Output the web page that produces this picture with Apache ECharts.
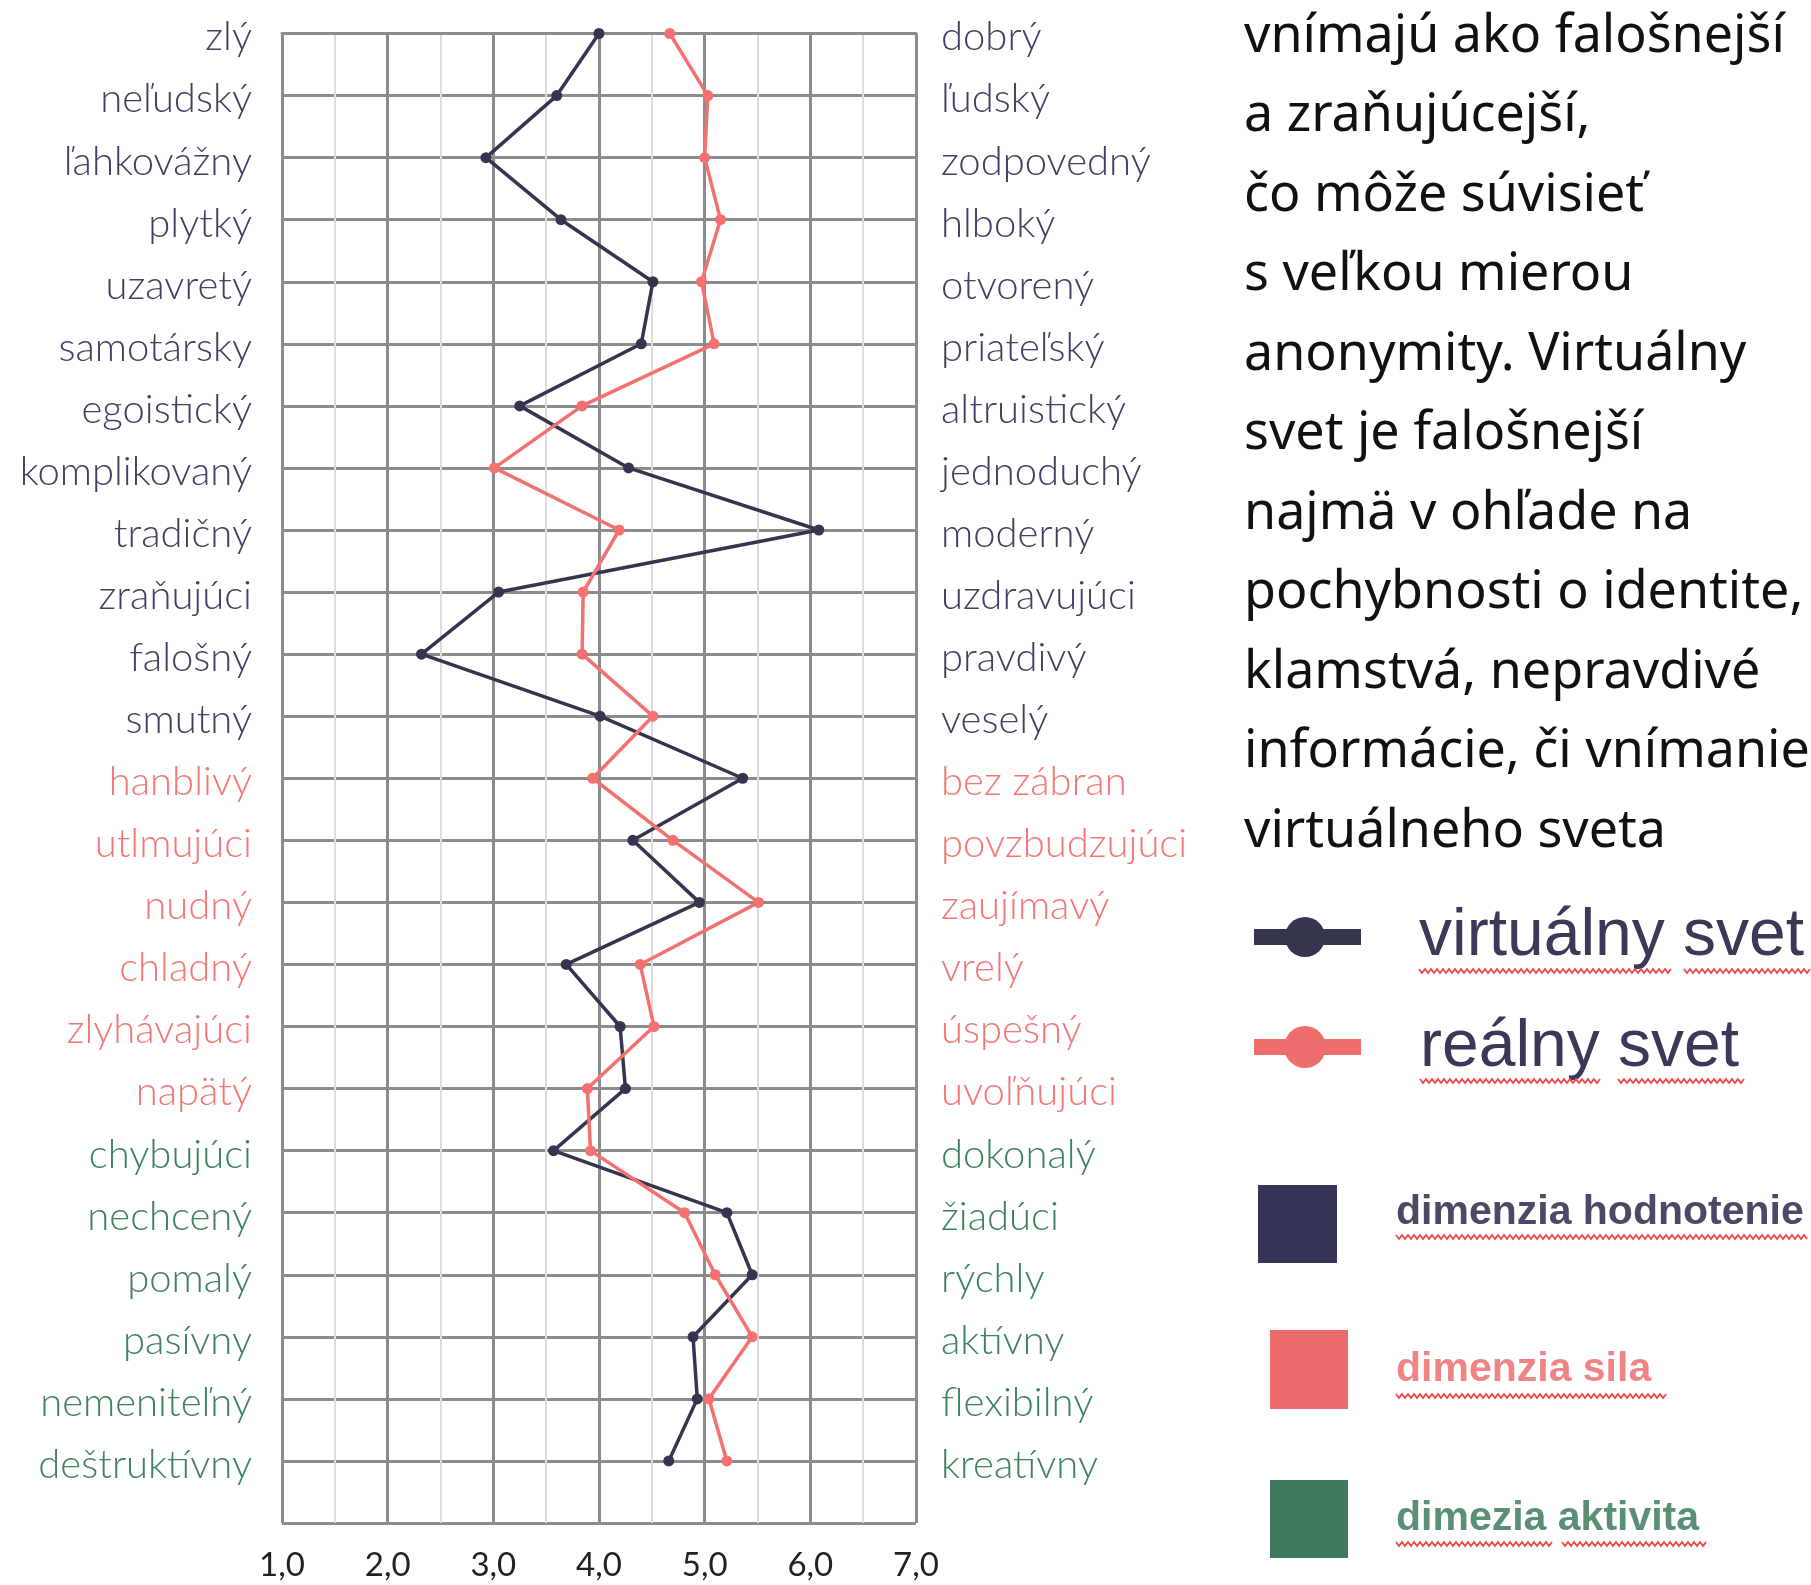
<!DOCTYPE html>
<html>
<head>
<meta charset="utf-8">
<script src="https://cdn.jsdelivr.net/npm/echarts@6/dist/echarts.min.js"></script>
<style>
html, body { margin: 0; padding: 0; background: #fff; }
#chart1 { width: 1811px; height: 1585px; }
</style>
</head>
<body>
<div id="chart1"></div>
<script>
// pary prídavných mien (ľavý / pravý pól)
var leftNames = ['zlý', 'neľudský', 'ľahkovážny', 'plytký', 'uzavretý', 'samotársky', 'egoistický',
	'komplikovaný', 'tradičný', 'zraňujúci', 'falošný', 'smutný', 'hanblivý', 'utlmujúci', 'nudný',
	'chladný', 'zlyhávajúci', 'napätý', 'chybujúci', 'nechcený', 'pomalý', 'pasívny', 'nemeniteľný', 'deštruktívny'];
var rightNames = ['dobrý', 'ľudský', 'zodpovedný', 'hlboký', 'otvorený', 'priateľský', 'altruistický',
	'jednoduchý', 'moderný', 'uzdravujúci', 'pravdivý', 'veselý', 'bez zábran', 'povzbudzujúci', 'zaujímavý',
	'vrelý', 'úspešný', 'uvoľňujúci', 'dokonalý', 'žiadúci', 'rýchly', 'aktívny', 'flexibilný', 'kreatívny'];
// dimenzia: h = hodnotenie, s = sila, a = aktivita
var rowDim = ['h', 'h', 'h', 'h', 'h', 'h', 'h', 'h', 'h', 'h', 'h', 'h',
	's', 's', 's', 's', 's', 's', 'a', 'a', 'a', 'a', 'a', 'a'];

var virtualny = [4.00, 3.60, 2.93, 3.64, 4.51, 4.40, 3.25, 4.28, 6.08, 3.05, 2.32, 4.01,
	5.36, 4.32, 4.95, 3.69, 4.20, 4.25, 3.57, 5.21, 5.45, 4.89, 4.93, 4.66];
var realny = [4.67, 5.03, 5.00, 5.15, 4.97, 5.09, 3.84, 3.01, 4.19, 3.85, 3.84, 4.51,
	3.94, 4.70, 5.51, 4.39, 4.52, 3.89, 3.92, 4.81, 5.10, 5.45, 5.04, 5.21];

var textLines = ['vnímajú ako falošnejší', 'a zraňujúcejší,', 'čo môže súvisieť', 's veľkou mierou',
	'anonymity. Virtuálny', 'svet je falošnejší', 'najmä v ohľade na', 'pochybnosti o identite,',
	'klamstvá, nepravdivé', 'informácie, či vnímanie', 'virtuálneho sveta'];

var NAVY = '#36354f';
var PINK = '#f4716f';
var labelFont = 'Lato';

var rich = {
	h: { color: '#414062', fontSize: 40, fontWeight: 300, fontFamily: labelFont, padding: [8, 0, 0, 0] },
	s: { color: '#f37775', fontSize: 40, fontWeight: 300, fontFamily: labelFont, padding: [8, 0, 0, 0] },
	a: { color: '#3f8260', fontSize: 40, fontWeight: 300, fontFamily: labelFont, padding: [8, 0, 0, 0] }
};

function toPairs(arr) {
	var d = [];
	for (var i = 0; i < arr.length; i++) {
		d.push([arr[i], i]);
	}
	return d;
}

// vlnovka ako pri kontrole pravopisu
function squiggle(x0, x1, y) {
	var pts = [];
	var k = 0;
	for (var x = x0; x <= x1; x += 3) {
		pts.push([x, y + (k % 2 ? 2 : -2)]);
		k++;
	}
	return {
		type: 'polyline',
		shape: { points: pts },
		style: { stroke: '#f04a4a', lineWidth: 1.8, fill: null }
	};
}

var myChart = echarts.init(document.getElementById('chart1'));

var graphics = [
	{
		type: 'text', x: 1244, y: -3,
		style: {
			text: textLines.join('\n'), font: '52px "Noto Sans"', fill: '#111',
			lineHeight: 79.5, verticalAlign: 'top', align: 'left'
		}
	},
	// legenda - čiary
	{ type: 'rect', shape: { x: 1254, y: 929, width: 107, height: 16 }, style: { fill: NAVY } },
	{ type: 'circle', shape: { cx: 1305, cy: 937, r: 20 }, style: { fill: NAVY } },
	{ type: 'text', x: 1419, y: 937, style: { text: 'virtuálny svet', font: '66px "Liberation Sans"', fill: '#3a3958', verticalAlign: 'middle' } },
	{ type: 'rect', shape: { x: 1254, y: 1039, width: 107, height: 16 }, style: { fill: '#ef6d6d' } },
	{ type: 'circle', shape: { cx: 1305, cy: 1047, r: 21 }, style: { fill: '#ef6d6d' } },
	{ type: 'text', x: 1420, y: 1048, style: { text: 'reálny svet', font: '66px "Liberation Sans"', fill: '#3a3958', verticalAlign: 'middle' } },
	// legenda - dimenzie
	{ type: 'rect', shape: { x: 1258, y: 1185, width: 79, height: 78 }, style: { fill: '#363555' } },
	{ type: 'text', x: 1396, y: 1213, style: { text: 'dimenzia hodnotenie', font: 'bold 41px "Liberation Sans"', fill: '#4a4968', verticalAlign: 'middle' } },
	{ type: 'rect', shape: { x: 1270, y: 1330, width: 78, height: 79 }, style: { fill: '#ec6b6c' } },
	{ type: 'text', x: 1396, y: 1370, style: { text: 'dimenzia sila', font: 'bold 41px "Liberation Sans"', fill: '#f08484', verticalAlign: 'middle' } },
	{ type: 'rect', shape: { x: 1270, y: 1480, width: 78, height: 78 }, style: { fill: '#3f7a5f' } },
	{ type: 'text', x: 1396, y: 1519, style: { text: 'dimezia aktivita', font: 'bold 41px "Liberation Sans"', fill: '#5a8f74', verticalAlign: 'middle' } },
	squiggle(1419, 1672, 971), squiggle(1684, 1811, 971),
	squiggle(1420, 1601, 1081), squiggle(1618, 1744, 1081),
	squiggle(1396, 1808, 1237),
	squiggle(1396, 1667, 1396),
	squiggle(1396, 1552, 1544), squiggle(1562, 1706, 1544)
];

var option = {
	backgroundColor: '#fff',
	animation: false,
	grid: { left: 282, top: 33.5, width: 634, height: 1489.5 },
	xAxis: {
		type: 'value', min: 1, max: 7, interval: 1,
		axisLine: { show: true, lineStyle: { color: '#8c8c8c', width: 3 } },
		axisTick: { show: true, length: 10, lineStyle: { color: '#8c8c8c', width: 3 } },
		axisLabel: {
			margin: 26, fontSize: 33, fontFamily: labelFont, color: '#222',
			formatter: function (v) { return v.toFixed(1).replace('.', ','); }
		},
		splitLine: { show: true, lineStyle: { color: '#8c8c8c', width: 3 } },
		minorTick: { show: false, splitNumber: 2 },
		minorSplitLine: { show: true, lineStyle: { color: '#dcdcdc', width: 2 } }
	},
	yAxis: [{
		type: 'value', min: 0, max: 24, interval: 1, inverse: true, position: 'left',
		axisLine: { show: false }, axisTick: { show: false },
		splitLine: { show: true, lineStyle: { color: '#8c8c8c', width: 3 } },
		axisLabel: {
			margin: 30, rich: rich,
			formatter: function (v) {
				var name = leftNames[v];
				return name ? '{' + rowDim[v] + '|' + name + '}' : '';
			}
		}
	}, {
		type: 'value', min: 0, max: 24, interval: 1, inverse: true, position: 'right',
		axisLine: { show: false }, axisTick: { show: false }, splitLine: { show: false },
		axisLabel: {
			margin: 25, rich: rich,
			formatter: function (v) {
				var name = rightNames[v];
				return name ? '{' + rowDim[v] + '|' + name + '}' : '';
			}
		}
	}],
	series: [{
		name: 'virtuálny svet', type: 'line', yAxisIndex: 0,
		symbol: 'circle', symbolSize: 11,
		itemStyle: { color: NAVY }, lineStyle: { color: NAVY, width: 3.5 },
		data: toPairs(virtualny)
	}, {
		name: 'reálny svet', type: 'line', yAxisIndex: 0,
		symbol: 'circle', symbolSize: 11,
		itemStyle: { color: PINK }, lineStyle: { color: PINK, width: 3.5 },
		data: toPairs(realny)
	}],
	graphic: graphics
};
myChart.setOption(option);
</script>
</body>
</html>
